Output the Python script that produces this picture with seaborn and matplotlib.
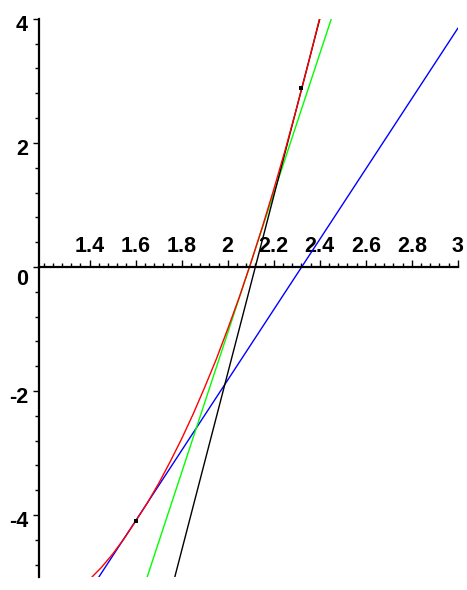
import matplotlib
matplotlib.use('Agg')
import numpy as np
import pandas as pd
import matplotlib.pyplot as plt
import matplotlib.transforms as mtransforms
from matplotlib.ticker import MultipleLocator, FixedLocator
import seaborn as sns

# curve values
curve_x = [1.41, 1.45, 1.50, 1.55, 1.60, 1.65, 1.70, 1.75, 1.80, 1.85, 1.90, 1.95,
           2.00, 2.05, 2.10, 2.15, 2.20, 2.25, 2.30, 2.35, 2.40]
curve_y = [-5.00, -4.85, -4.63, -4.38, -4.10, -3.81, -3.49, -3.14, -2.77, -2.37, -1.94, -1.49,
           -1.00, -0.49, 0.06, 0.64, 1.25, 1.89, 2.57, 3.28, 4.02]

# straight lines (end points)
blue_x = [1.44, 3.00]
blue_y = [-5.0, 3.85]
green_x = [1.65, 2.45]
green_y = [-5.0, 4.0]
black_x = [1.77, 2.40]
black_y = [-5.0, 4.0]

# marked points
point_x = [1.60, 2.32]
point_y = [-4.10, 2.88]

x_ticks = [1.4, 1.6, 1.8, 2.0, 2.2, 2.4, 2.6, 2.8, 3.0]
x_labels = ['1.4', '1.6', '1.8', '2', '2.2', '2.4', '2.6', '2.8', '3']
y_ticks = [-4, -2, 0, 2, 4]
y_labels = ['-4', '-2', '0', '2', '4']

sns.set_style("white")
plt.rcParams['font.family'] = ['Liberation Sans', 'DejaVu Sans']
plt.rcParams['font.weight'] = 'bold'

fig = plt.figure(figsize=(4.67, 5.90), dpi=100)
ax = fig.add_axes([0.0835, 0.022, 0.897, 0.946])

sns.lineplot(x=blue_x, y=blue_y, ax=ax, color='blue', linewidth=1, estimator=None, sort=False)
sns.lineplot(x=green_x, y=green_y, ax=ax, color='#00ff00', linewidth=1, estimator=None, sort=False)
sns.lineplot(x=black_x, y=black_y, ax=ax, color='black', linewidth=1, estimator=None, sort=False)
sns.lineplot(x=curve_x, y=curve_y, ax=ax, color='red', linewidth=1, estimator=None, sort=False)
sns.scatterplot(x=point_x, y=point_y, ax=ax, color='black', marker='s', s=10, linewidth=0, zorder=5)

ax.set_xlim(1.18, 3.0)
ax.set_ylim(-5, 4)

# axes crossing, Maple style
ax.spines['right'].set_visible(False)
ax.spines['bottom'].set_visible(False)
ax.spines['top'].set_position(('data', 0))
for s in ['top', 'left']:
    ax.spines[s].set_linewidth(1.6)
    ax.spines[s].set_color('black')

ax.xaxis.set_ticks_position('top')
ax.xaxis.set_major_locator(FixedLocator(x_ticks))
ax.set_xticklabels(x_labels)
ax.xaxis.set_minor_locator(MultipleLocator(0.04))
ax.tick_params(axis='x', which='major', top=True, direction='out', length=5, width=1,
               pad=2, labelsize=15.5, colors='black')
ax.tick_params(axis='x', which='minor', top=True, direction='out', length=3, width=1, colors='black')

ax.yaxis.set_major_locator(FixedLocator(y_ticks))
ax.set_yticklabels(y_labels)
ax.yaxis.set_minor_locator(MultipleLocator(0.4))
ax.tick_params(axis='y', which='major', left=True, direction='out', length=4, width=1,
               pad=4, labelsize=15.5, colors='black')
ax.tick_params(axis='y', which='minor', left=True, direction='out', length=3, width=1, colors='black')

# y labels sit a little below their ticks, the 0 more so
for lab in ax.get_yticklabels():
    dy = -10 if lab.get_text() == '0' else -4
    lab.set_transform(lab.get_transform() + mtransforms.ScaledTranslation(0, dy / 100, fig.dpi_scale_trans))
for lab in ax.get_xticklabels() + ax.get_yticklabels():
    lab.set_fontweight('bold')

ax.grid(False)
fig.savefig('out.png', dpi=100)
